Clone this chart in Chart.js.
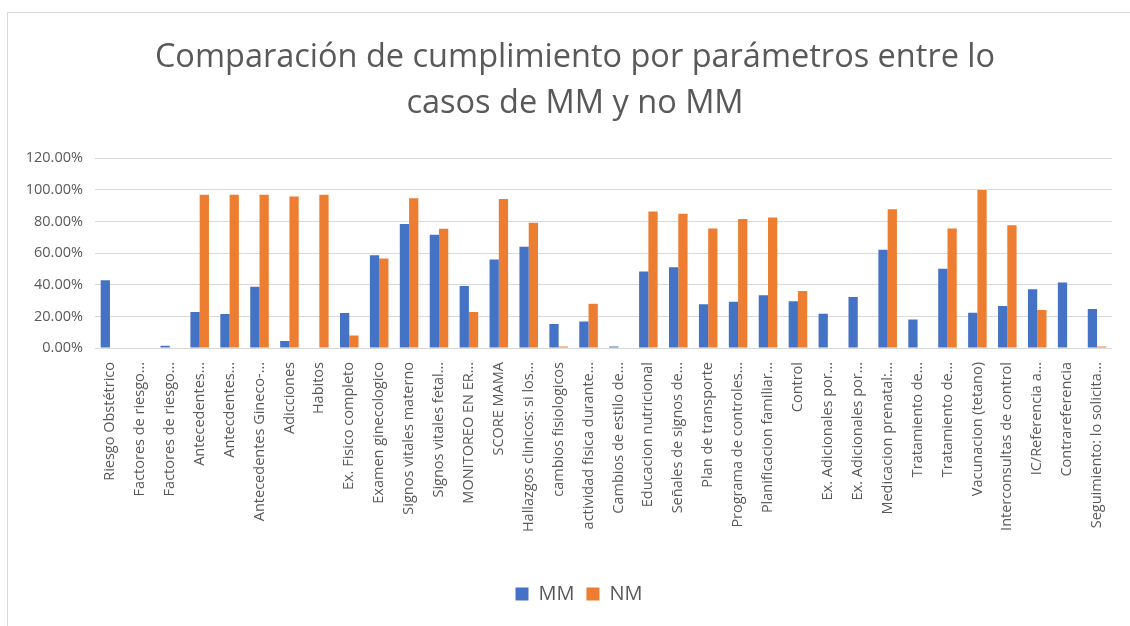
<!DOCTYPE html>
<html>
<head>
<meta charset="utf-8">
<script src="https://cdn.jsdelivr.net/npm/chart.js@4"></script>
<style>
  html, body { margin: 0; padding: 0; background: #fff; overflow: hidden; }
  #marco { position: absolute; left: 7px; top: 12px; width: 1140px; height: 640px; border: 1px solid #d9d9d9; box-sizing: border-box; }
  #wrap { position: absolute; left: 0; top: 0; width: 1130px; height: 626px; }
</style>
</head>
<body>
<div id="marco"></div>
<div id="wrap"><canvas id="grafico"></canvas></div>
<script>
const categorias = [
  'Riesgo Obstétrico', 'Factores de riesgo…', 'Factores de riesgo…', 'Antecedentes…',
  'Antecdentes…', 'Antecedentes Gineco-…', 'Adicciones', 'Habitos',
  'Ex. Fisico completo', 'Examen ginecologico', 'Signos vitales materno', 'Signos vitales fetal…',
  'MONITOREO EN ER…', 'SCORE MAMA', 'Hallazgos clinicos: si los…', 'cambios fisiologicos',
  'actividad fisica durante…', 'Cambios de estilo de…', 'Educacion nutricional', 'Señales de signos de…',
  'Plan de transporte', 'Programa de controles…', 'Planificacion familiar…', 'Control',
  'Ex. Adicionales por…', 'Ex. Adicionales por…', 'Medicacion prenatal:…', 'Tratamiento de…',
  'Tratamiento de…', 'Vacunacion (tetano)', 'Interconsultas de control', 'IC/Referencia a…',
  'Contrareferencia', 'Seguimiento: lo solicita…'
];

const valoresMM = [
  0.428, 0, 0.015, 0.228, 0.215, 0.388, 0.044, 0,
  0.221, 0.587, 0.785, 0.716, 0.392, 0.560, 0.641, 0.152,
  0.167, 0.010, 0.484, 0.511, 0.276, 0.292, 0.334, 0.296,
  0.217, 0.322, 0.622, 0.180, 0.501, 0.223, 0.265, 0.372,
  0.415, 0.246
];

const valoresNM = [
  0, 0, 0, 0.969, 0.969, 0.969, 0.958, 0.969,
  0.079, 0.566, 0.948, 0.754, 0.228, 0.942, 0.793, 0.010,
  0.280, 0, 0.864, 0.850, 0.756, 0.816, 0.825, 0.361,
  0, 0, 0.877, 0, 0.756, 1.000, 0.777, 0.240,
  0, 0.010
];

const ticksY = [0, 0.2, 0.4, 0.6, 0.8, 1.0, 1.2];

const gris = '#595959';
const fuente = "'Open Sans', 'DejaVu Sans', sans-serif";

// el titulo y la leyenda de Excel no estan centrados sobre el area del grafico
const correrCajas = {
    id: 'correrCajas',
    afterLayout: function (chart) {
        chart.titleBlock.left += 14;
        chart.titleBlock.right += 14;
        chart.legend.left += 18;
        chart.legend.right += 18;
    }
};

const ctx = document.getElementById('grafico').getContext('2d');

const chart = new Chart(ctx, {
    type: 'bar',
    data: {
        labels: categorias,
        datasets: [{
            label: 'MM',
            data: valoresMM,
            backgroundColor: '#4472C4'
        }, {
            label: 'NM',
            data: valoresNM,
            backgroundColor: '#ED7D31'
        }]
    },
    options: {
        responsive: true,
        maintainAspectRatio: false,
        animation: false,
        layout: { padding: { left: 10, right: 18, top: 0, bottom: 12 } },
        datasets: {
            bar: { categoryPercentage: 0.62, barPercentage: 1 }
        },
        plugins: {
            title: {
                display: true,
                text: ['Comparación de cumplimiento por parámetros entre lo', 'casos de MM y no MM'],
                color: gris,
                font: { family: fuente, size: 32.5, weight: 'normal', lineHeight: 1.42 },
                padding: { top: 35, bottom: 31 }
            },
            legend: {
                position: 'bottom',
                labels: {
                    color: gris,
                    font: { family: fuente, size: 20 },
                    boxWidth: 13,
                    boxHeight: 13,
                    padding: 12
                }
            },
            tooltip: { enabled: false }
        },
        scales: {
            x: {
                grid: { display: false },
                border: { display: false },
                ticks: {
                    autoSkip: false,
                    minRotation: 90,
                    maxRotation: 90,
                    color: gris,
                    font: { family: fuente, size: 14.5 },
                    padding: 6
                },
                afterFit: function (scale) { scale.height = 224; }
            },
            y: {
                min: 0,
                max: 1.2,
                border: { display: false },
                grid: { color: '#d9d9d9', lineWidth: 1, drawTicks: false },
                afterBuildTicks: function (scale) {
                    scale.ticks = ticksY.map(function (v) { return { value: v }; });
                },
                ticks: {
                    color: gris,
                    font: { family: fuente, size: 14.5 },
                    padding: 12,
                    callback: function (v) { return (v * 100).toFixed(2) + '%'; }
                },
                afterFit: function (scale) { scale.width = 85; }
            }
        }
    },
    plugins: [correrCajas]
});
</script>
</body>
</html>
